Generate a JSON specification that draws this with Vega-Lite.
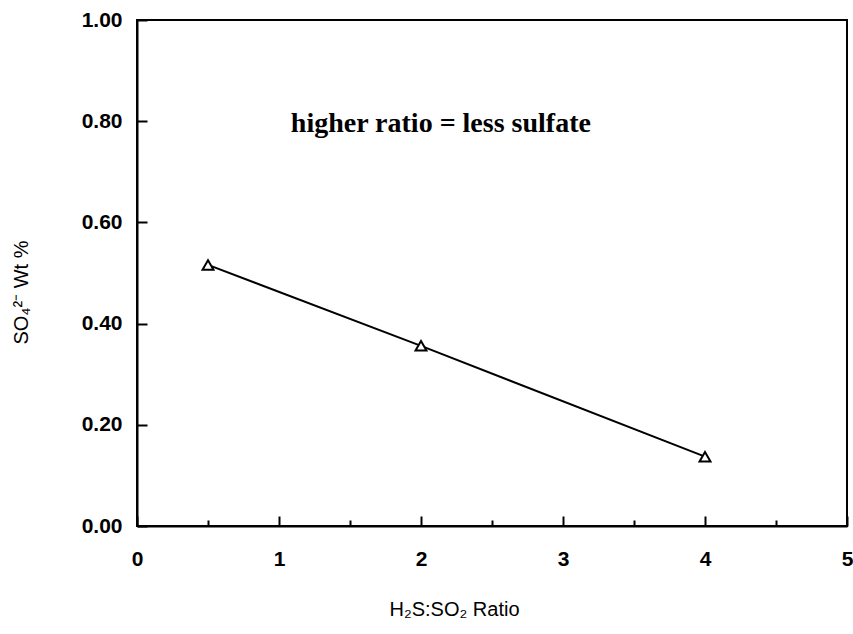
{
  "$schema": "https://vega.github.io/schema/vega-lite/v6.json",
  "width": 710,
  "height": 506,
  "autosize": {"type": "none"},
  "padding": {"left": 137, "top": 20, "right": 6, "bottom": 108},
  "background": "white",
  "config": {
    "view": {"stroke": "black", "strokeWidth": 2},
    "axis": {
      "grid": false,
      "domainColor": "black",
      "domainWidth": 2,
      "tickColor": "black",
      "tickWidth": 2,
      "labelFlush": false,
      "labelOverlap": false,
      "labelFont": "Liberation Sans",
      "labelFontSize": 21,
      "labelFontWeight": "bold",
      "labelColor": "black",
      "titleFont": "Liberation Sans",
      "titleFontSize": 20,
      "titleFontWeight": "normal",
      "titleColor": "black"
    }
  },
  "datasets": {
    "pts": [
      {"ratio": 0.5, "sulfate": 0.516},
      {"ratio": 2, "sulfate": 0.356},
      {"ratio": 4, "sulfate": 0.137}
    ],
    "note": [
      {"ratio": 2.14, "sulfate": 0.779, "label": "higher ratio = less sulfate"}
    ]
  },
  "layer": [
    {
      "data": {"name": "pts"},
      "mark": {"type": "line", "color": "black", "strokeWidth": 2},
      "encoding": {
        "x": {
          "field": "ratio", "type": "quantitative",
          "scale": {"domain": [0, 5], "nice": false, "zero": false},
          "axis": {
            "values": [0, 1, 2, 3, 4, 5], "format": "d", "ticks": false,
            "labelPadding": 22, "orient": "bottom",
            "title": "H₂S:SO₂ Ratio", "titlePadding": 30, "titleX": 317
          }
        },
        "y": {
          "field": "sulfate", "type": "quantitative",
          "scale": {"domain": [0, 1], "nice": false, "zero": false},
          "axis": {
            "values": [0, 0.2, 0.4, 0.6, 0.8, 1.0], "format": ".2f", "ticks": false,
            "labelPadding": 15, "orient": "left",
            "title": "SO₄²⁻ Wt %", "titlePadding": 50, "titleY": 272
          }
        }
      }
    },
    {
      "data": {"name": "pts"},
      "mark": {"type": "point", "shape": "triangle-up", "size": 120, "filled": true, "fill": "white", "stroke": "black", "strokeWidth": 2, "opacity": 1},
      "encoding": {
        "x": {
          "field": "ratio", "type": "quantitative",
          "axis": {
            "values": [0, 1, 2, 3, 4, 5], "labels": false, "domain": false,
            "tickSize": -10, "title": null, "orient": "bottom"
          }
        },
        "y": {
          "field": "sulfate", "type": "quantitative",
          "axis": {
            "values": [0, 0.2, 0.4, 0.6, 0.8, 1.0], "labels": false, "domain": false,
            "tickSize": -10, "title": null, "orient": "left"
          }
        }
      }
    },
    {
      "data": {"name": "note"},
      "mark": {"type": "text", "font": "Liberation Serif", "fontSize": 28, "fontWeight": "bold", "color": "black", "align": "center", "baseline": "alphabetic"},
      "encoding": {
        "x": {
          "field": "ratio", "type": "quantitative",
          "axis": {
            "values": [0.5, 1.5, 2.5, 3.5, 4.5], "labels": false, "domain": false,
            "tickSize": -6, "title": null, "orient": "bottom"
          }
        },
        "y": {"field": "sulfate", "type": "quantitative", "axis": null},
        "text": {"field": "label"}
      }
    }
  ],
  "resolve": {"axis": {"x": "independent", "y": "independent"}}
}
